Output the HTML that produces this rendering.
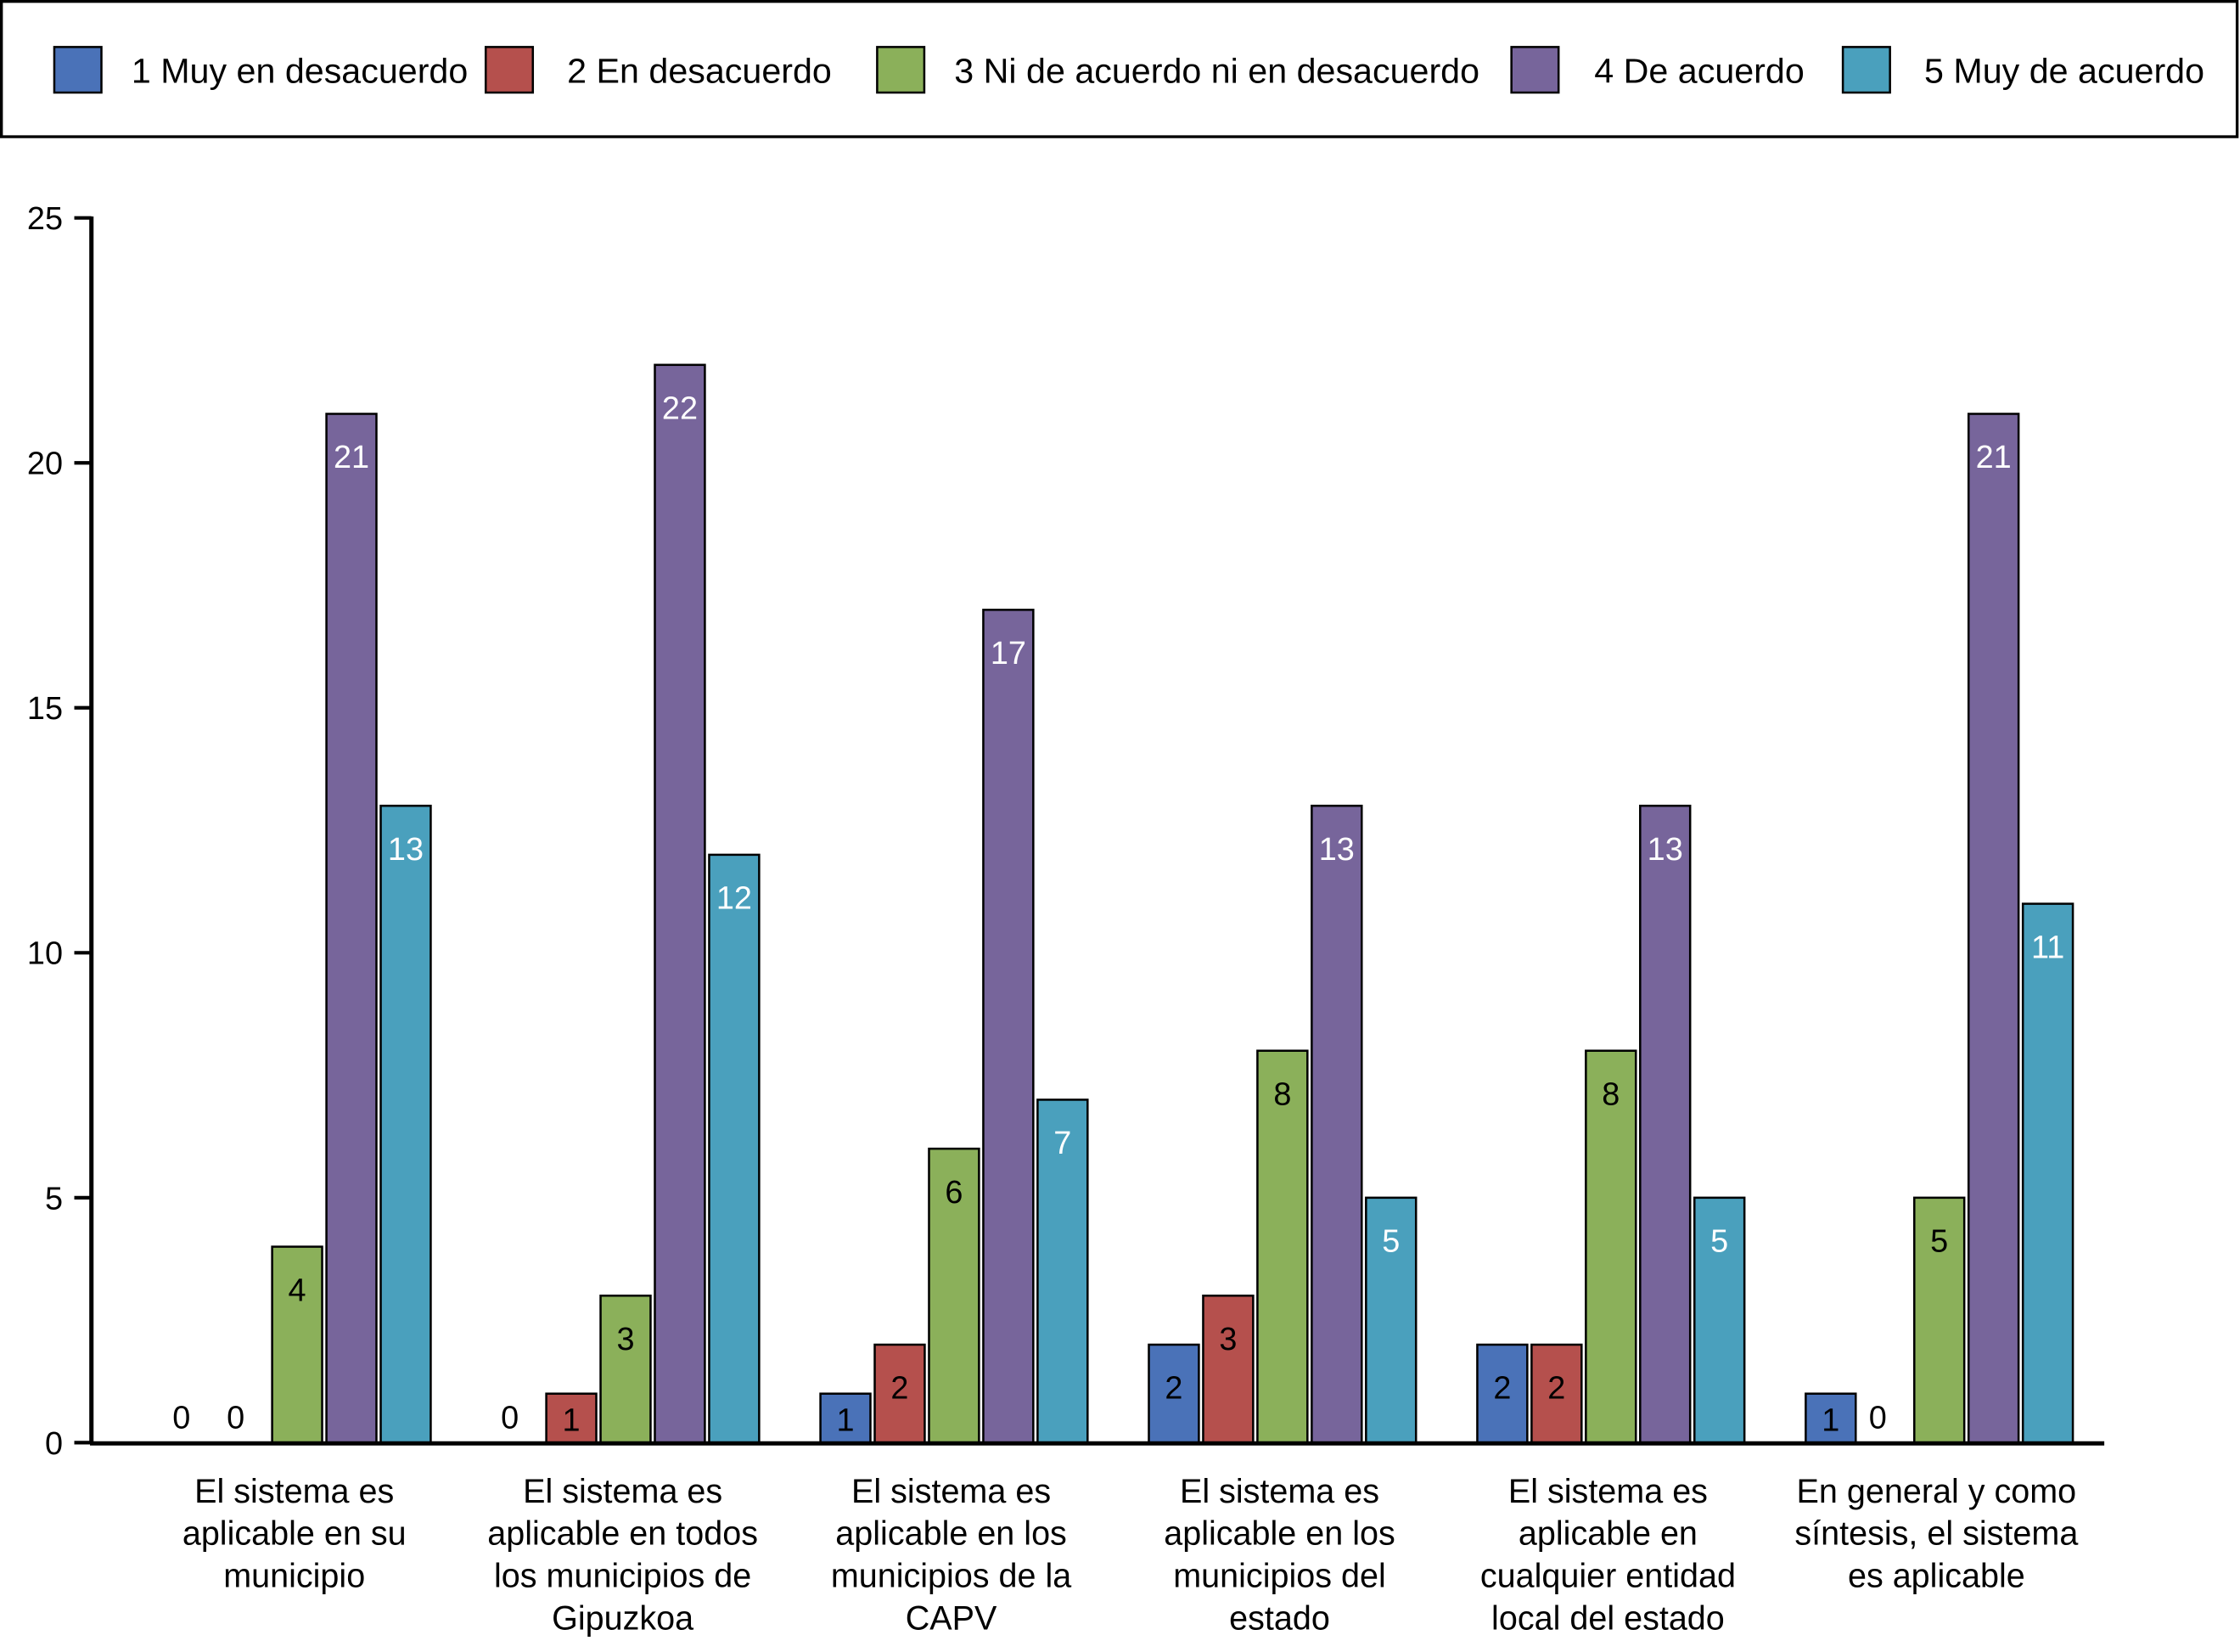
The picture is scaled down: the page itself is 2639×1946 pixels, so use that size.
<!DOCTYPE html>
<html><head><meta charset="utf-8"><style>
html,body{margin:0;padding:0;background:#fff}
svg{display:block;font-family:"Liberation Sans",Arial,sans-serif}
</style></head><body>
<svg id="chart" width="2639" height="1946" viewBox="0 0 1568 1160" preserveAspectRatio="none" xmlns="http://www.w3.org/2000/svg">
<rect x="1" y="1" width="1565" height="95" fill="#fff" stroke="#000" stroke-width="2"/>
<g id="legend"></g>
<g id="plot"></g>
</svg>
<script>
const categories=[["El sistema es","aplicable en su","municipio"],["El sistema es","aplicable en todos","los municipios de","Gipuzkoa"],["El sistema es","aplicable en los","municipios de la","CAPV"],["El sistema es","aplicable en los","municipios del","estado"],["El sistema es","aplicable en","cualquier entidad","local del estado"],["En general y como","síntesis, el sistema","es aplicable"]];
const seriesNames=["1 Muy en desacuerdo","2 En desacuerdo","3 Ni de acuerdo  ni en desacuerdo","4 De acuerdo","5 Muy de acuerdo"];
const s1=[0,0,1,2,2,1];
const s2=[0,1,2,3,2,0];
const s3=[4,3,6,8,8,5];
const s4=[21,22,17,13,13,21];
const s5=[13,12,7,5,5,11];
const yTicks=[0,5,10,15,20,25];
const series=[s1,s2,s3,s4,s5];
const colors=["#4a72b8","#b5504d","#8bb05a","#77659b","#4aa0bd"];
const labelColors=["#000","#000","#000","#fff","#fff"];
const NS="http://www.w3.org/2000/svg";
function mk(tag,attrs,parent,text){const e=document.createElementNS(NS,tag);for(const k in attrs)e.setAttribute(k,attrs[k]);if(text!==undefined)e.textContent=text;parent.appendChild(e);return e;}
const y0=1013,y25=153;
function yScale(v){return y0-(v/25)*(y0-y25);}
function groupCenter(i){return 208+229.9*i;}
const barStep=38,barW=35;
function xScale(i,s){return groupCenter(i)+(s-2)*barStep;}
const legend=document.getElementById('legend');
const legSq=[38,340,614,1058,1290],legTx=[92,397,668,1116,1347];
seriesNames.forEach((n,s)=>{
  const r=mk('rect',{x:legSq[s],y:33,width:33,height:32,fill:colors[s],stroke:'#000','stroke-width':1.5},legend);
  
  
  const t=mk('text',{x:legTx[s],y:58,'font-size':24.5,fill:'#000','xml:space':'preserve'},legend,n);
  
  
});
const plot=document.getElementById('plot');
yTicks.forEach(v=>{
  const y=yScale(v);
  const l=mk('line',{x1:52,x2:64,y1:y,y2:y,stroke:'#000','stroke-width':2.5},plot);
  
  
  const t=mk('text',{x:44,y:y+8,'font-size':22.5,'text-anchor':'end'},plot,String(v));
  
  
});
categories.forEach((lines,i)=>{
  series.forEach((arr,s)=>{
    const v=arr[i],x=xScale(i,s)-barW/2,y=yScale(v);
    if(v>0){
      const r=mk('rect',{x:x,y:y,width:barW,height:y0-y,fill:colors[s],stroke:'#000','stroke-width':1.5},plot);
      
      
    }
    let ly;
    if(v===0) ly=y0-10;
    else if(y0-y<60) ly=(y+y0)/2+9;
    else ly=y+38;
    const xo=(v===0)?-5:0;
    const t=mk('text',{x:xScale(i,s)+xo,y:ly,'font-size':22.5,'text-anchor':'middle',fill:v===0?'#000':labelColors[s]},plot,String(v));
    
    
  });
  const t=mk('text',{'font-size':23.5,'text-anchor':'middle'},plot);
  
  
  lines.forEach((ln,k)=>{mk('tspan',{x:groupCenter(i)-2,y:1055+k*29.7},t,ln);});
});
const ax=mk('line',{x1:64,x2:64,y1:152,y2:1014,stroke:'#000','stroke-width':3},plot);


const bx=mk('line',{x1:63,x2:1473,y1:1013.5,y2:1013.5,stroke:'#000','stroke-width':3},plot);


</script>
</body></html>
